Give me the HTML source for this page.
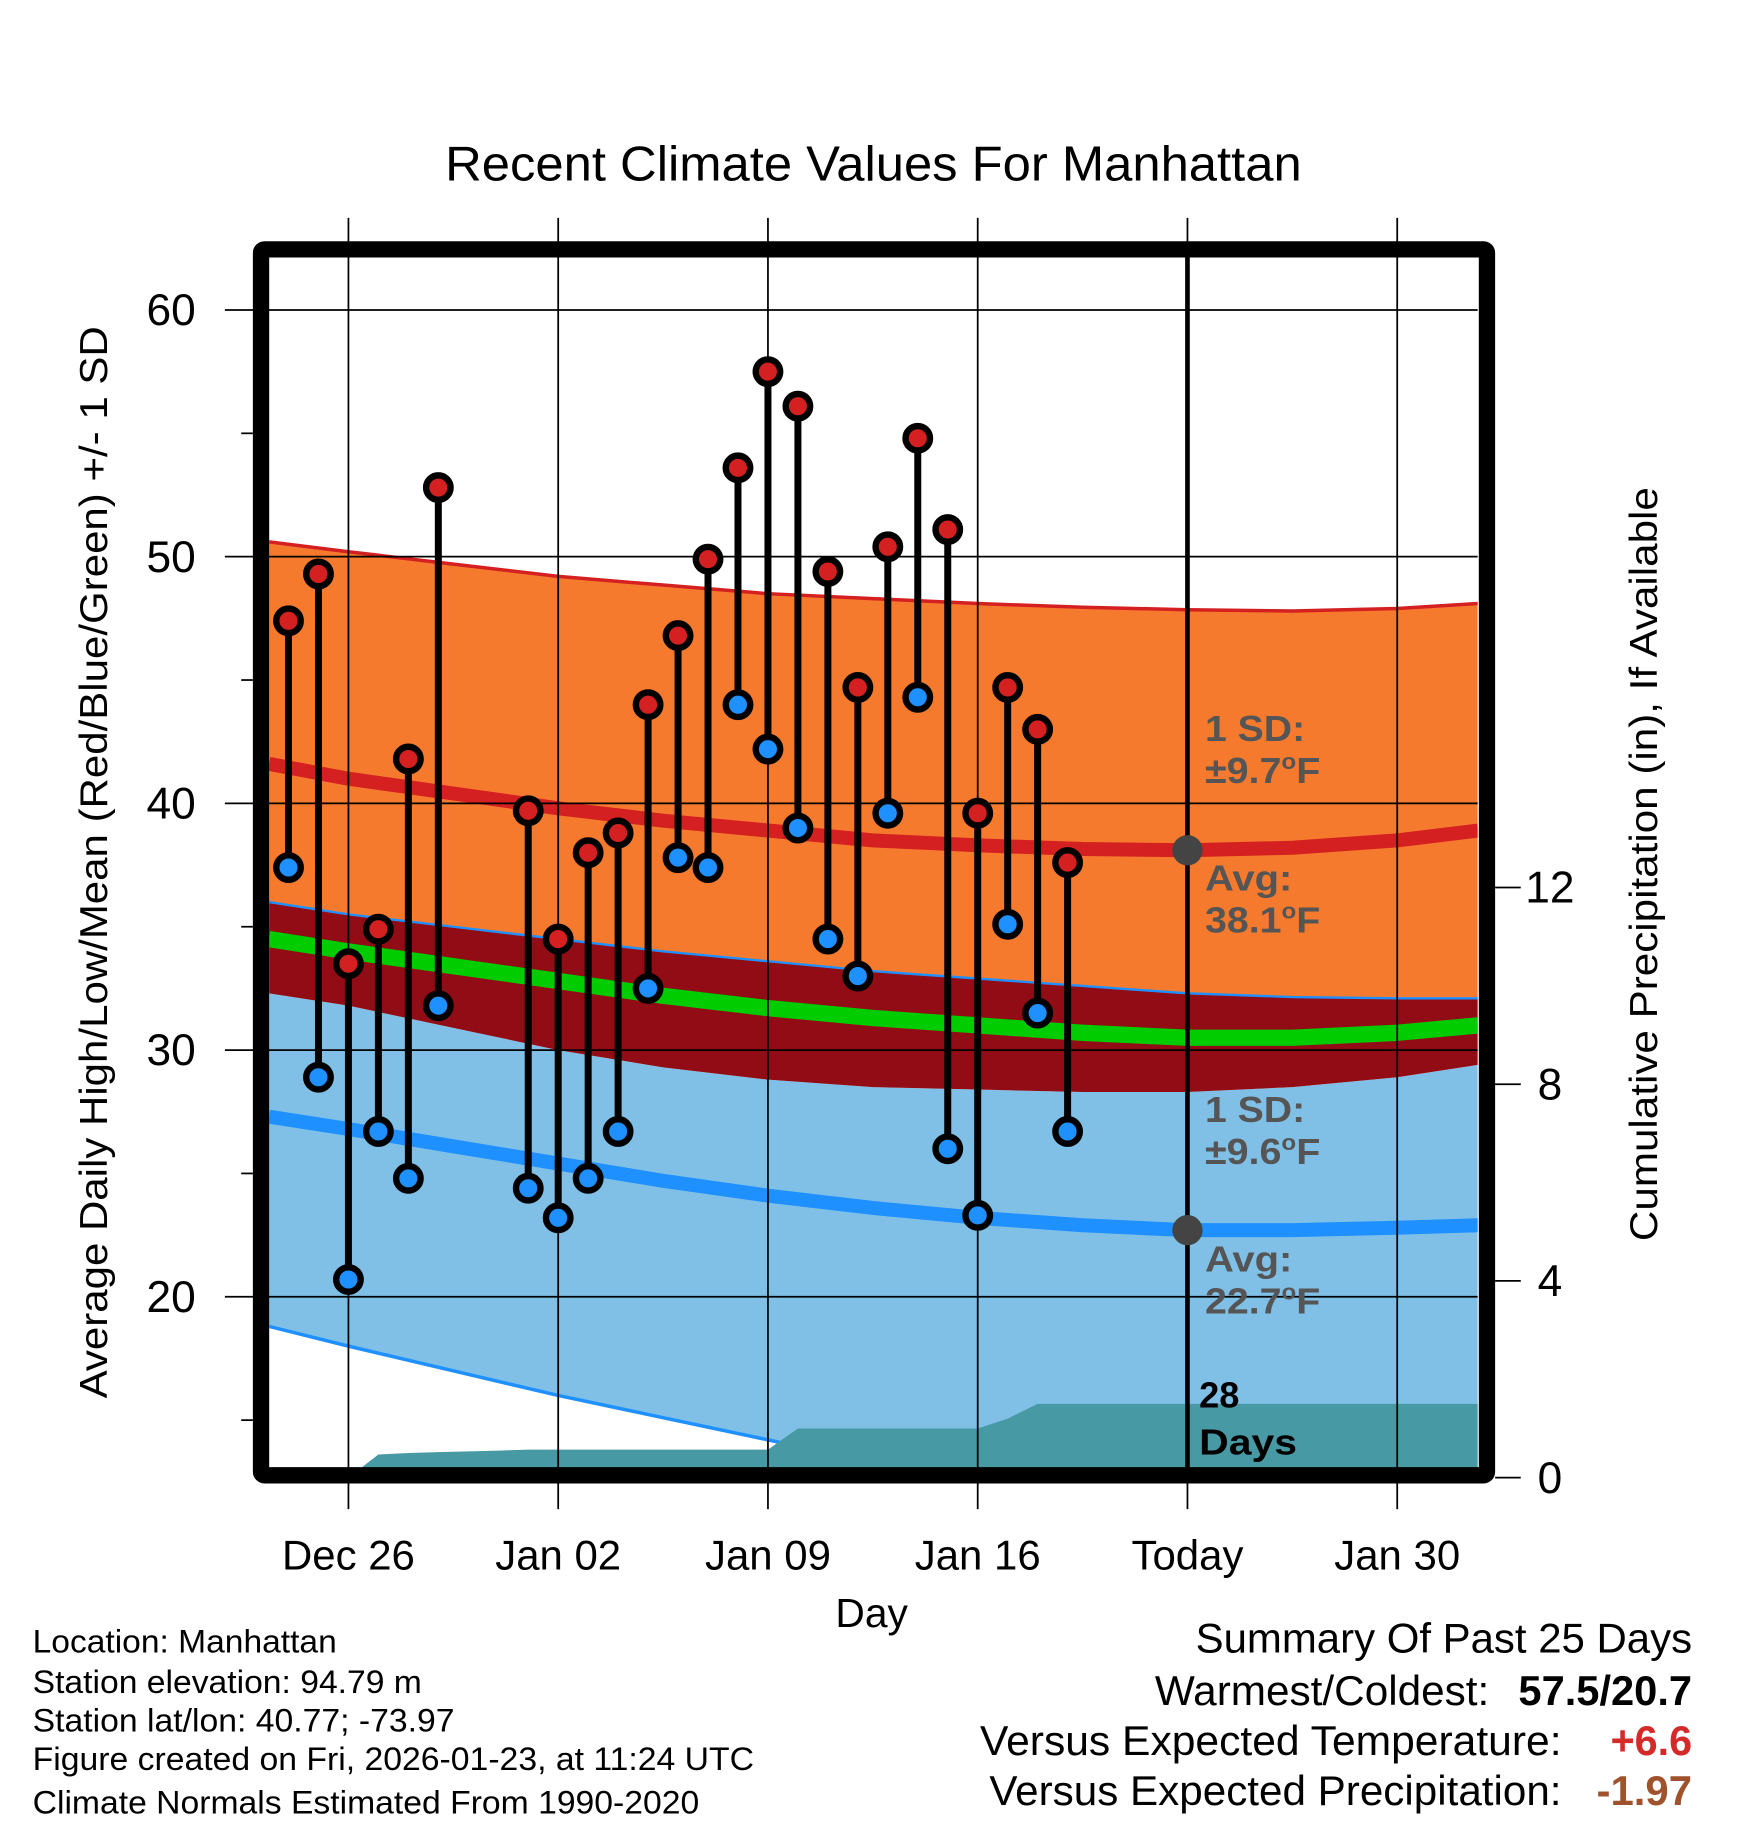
<!DOCTYPE html>
<html><head><meta charset="utf-8"><style>
html,body{margin:0;padding:0;background:#fff}
svg{display:block;font-family:"Liberation Sans",sans-serif}
</style></head><body>
<svg id="chart" width="1748" height="1828" viewBox="0 0 1500 1568.65" xmlns="http://www.w3.org/2000/svg">
<rect width="1500" height="1568.65" fill="#fff"/>
<g id="plot"></g>
<text x="382" y="155" font-size="42" textLength="735" lengthAdjust="spacingAndGlyphs">Recent Climate Values For Manhattan</text>
<text transform="translate(92,1200) rotate(-90)" font-size="33" textLength="920" lengthAdjust="spacingAndGlyphs">Average Daily High/Low/Mean (Red/Blue/Green) +/- 1 SD</text>
<text transform="translate(1422,1065) rotate(-90)" font-size="33" textLength="647" lengthAdjust="spacingAndGlyphs">Cumulative Precipitation (in), If Available</text>
<text x="748" y="1396" font-size="35" text-anchor="middle">Day</text>
<g font-size="28">
<text x="28" y="1418" textLength="261" lengthAdjust="spacingAndGlyphs">Location: Manhattan</text>
<text x="28" y="1453" textLength="334" lengthAdjust="spacingAndGlyphs">Station elevation: 94.79 m</text>
<text x="28" y="1486" textLength="362" lengthAdjust="spacingAndGlyphs">Station lat/lon: 40.77; -73.97</text>
<text x="28" y="1519" textLength="619" lengthAdjust="spacingAndGlyphs">Figure created on Fri, 2026-01-23, at 11:24 UTC</text>
<text x="28" y="1556" textLength="572" lengthAdjust="spacingAndGlyphs">Climate Normals Estimated From 1990-2020</text>
</g>
<g font-size="36">
<text x="1026" y="1418" textLength="426" lengthAdjust="spacingAndGlyphs">Summary Of Past 25 Days</text>
<text x="991" y="1463" textLength="287" lengthAdjust="spacingAndGlyphs">Warmest/Coldest:</text>
<text x="1303" y="1463" font-weight="bold" textLength="149" lengthAdjust="spacingAndGlyphs">57.5/20.7</text>
<text x="841" y="1506" textLength="499" lengthAdjust="spacingAndGlyphs">Versus Expected Temperature:</text>
<text x="1382" y="1506" font-weight="bold" fill="#d42a2a" textLength="70" lengthAdjust="spacingAndGlyphs">+6.6</text>
<text x="849" y="1549" textLength="491" lengthAdjust="spacingAndGlyphs">Versus Expected Precipitation:</text>
<text x="1370" y="1549" font-weight="bold" fill="#a0522d" textLength="82" lengthAdjust="spacingAndGlyphs">-1.97</text>
</g>
</svg>
<script>
// days relative to Dec 26
const obsDays=[-2,-1,0,1,2,3,6,7,8,9,10,11,12,13,14,15,16,17,18,19,20,21,22,23,24];
const highs=[47.4,49.3,33.5,34.9,41.8,52.8,39.7,34.5,38.0,38.8,44.0,46.8,49.9,53.6,57.5,56.1,49.4,44.7,50.4,54.8,51.1,39.6,44.7,43.0,37.6];
const lows=[37.4,28.9,20.7,26.7,24.8,31.8,24.4,23.2,24.8,26.7,32.5,37.8,37.4,44.0,42.2,39.0,34.5,33.0,39.6,44.3,26.0,23.3,35.1,31.5,26.7];
const normDays=[-2.65,0,3.5,7,10.5,14,17.5,21,24.5,28,31.5,35,37.7];
const avgHigh=[41.6,41.0,40.4,39.8,39.3,38.9,38.5,38.3,38.15,38.1,38.2,38.5,38.9];
const highPlus=[50.6,50.2,49.7,49.2,48.85,48.5,48.3,48.1,47.95,47.85,47.8,47.9,48.1];
const highMinus=[36.0,35.5,35.0,34.5,34.0,33.6,33.2,32.9,32.6,32.3,32.15,32.1,32.1];
const avgMean=[34.5,34.0,33.4,32.8,32.2,31.7,31.3,31.0,30.7,30.5,30.5,30.7,31.0];
const avgLow=[27.3,26.8,26.1,25.4,24.7,24.1,23.6,23.2,22.9,22.7,22.7,22.8,22.9];
const lowPlus=[32.3,31.8,30.9,30.0,29.3,28.8,28.5,28.4,28.3,28.3,28.5,28.9,29.4];
const lowMinus=[18.8,18.0,17.0,16.0,15.1,14.2,13.3,12.5,12.0,11.5,11.2,11.0,11.0];
const precipDays=[0,1,2,3,5,6,14,15,21,22,23,37.7];
const precipVals=[0,0.47,0.5,0.52,0.55,0.57,0.57,1.0,1.0,1.2,1.5,1.5];
const yTicks=[60,50,40,30,20];
const yMinor=[55,45,35,25,15];
const pTicks=[0,4,8,12];
const xTickDays=[0,7,14,21,28,35];
const xTickLabels=["Dec 26","Jan 02","Jan 09","Jan 16","Today","Jan 30"];

const L=231,R=1268,T=221,B=1260;
const X=d=>299+d*25.714;
const Y=v=>266+(60-v)*21.17;
const P=p=>1268-p*42.2;
const NS="http://www.w3.org/2000/svg";
const g=document.getElementById('plot');
function mk(tag,a,parent){const e=document.createElementNS(NS,tag);for(const k in a)e.setAttribute(k,a[k]);(parent||g).appendChild(e);return e;}
const defs=mk('defs',{});
const cp=mk('clipPath',{id:'clip'},defs);mk('rect',{x:L,y:T,width:R-L,height:B-T},cp);
const clip=mk('g',{'clip-path':'url(#clip)'});
function band(up,lo,fill,name){
  let d='M'+normDays.map((t,i)=>X(t)+','+Y(up[i])).join('L');
  for(let i=normDays.length-1;i>=0;i--)d+='L'+X(normDays[i])+','+Y(lo[i]);
  const e=mk('path',{d:d+'Z',fill:fill},clip);
  
  
}
function line(arr,stroke,w,name){
  const e=mk('path',{d:'M'+normDays.map((t,i)=>X(t)+','+Y(arr[i])).join('L'),fill:'none',stroke:stroke,'stroke-width':w,'stroke-linejoin':'round'},clip);
  
  
}
band(highPlus,highMinus,'#f57a2e','high-sd-band');
band(lowPlus,lowMinus,'#80c0e6','low-sd-band');
band(highMinus,lowPlus,'#920c15','overlap-band');
line(highPlus,'#d42020',3,'high-plus-sd-line');
line(highMinus,'#1e90ff',2,'high-minus-sd-line');
line(lowMinus,'#1e90ff',3,'low-minus-sd-line');
line(avgMean,'#00cc00',14,'avg-mean-line');
line(avgHigh,'#d42020',12,'avg-high-line');
line(avgLow,'#1e90ff',12,'avg-low-line');
// precip
let pd='M'+X(precipDays[0])+','+P(0);
precipDays.forEach((t,i)=>pd+='L'+X(t)+','+P(precipVals[i]));
pd+='L'+X(precipDays[precipDays.length-1])+','+P(0)+'Z';
const pa=mk('path',{d:pd,fill:'#4799a3'},clip);


// grid
yTicks.forEach(v=>{
  const l=mk('line',{x1:193,x2:R,y1:Y(v),y2:Y(v),stroke:'#000','stroke-width':1.5});
  
  
  const t=mk('text',{x:168,y:Y(v)+13,'font-size':38,'text-anchor':'end'});t.textContent=v;
  
  
});
yMinor.forEach(v=>{mk('line',{x1:207,x2:217,y1:Y(v),y2:Y(v),stroke:'#000','stroke-width':1.5});});
xTickDays.forEach((d,i)=>{
  const l=mk('line',{x1:X(d),x2:X(d),y1:187,y2:1295,stroke:'#000','stroke-width':1.5});
  
  
  const t=mk('text',{x:X(d),y:1347,'font-size':36,'text-anchor':'middle'});t.textContent=xTickLabels[i];
  
  
});
pTicks.forEach(p=>{
  mk('line',{x1:1283,x2:1305,y1:P(p),y2:P(p),stroke:'#000','stroke-width':1.5});
  const t=mk('text',{x:1330,y:P(p)+13,'font-size':38,'text-anchor':'middle'});t.textContent=p;
  
  
});
// today line
const tl=mk('line',{x1:X(28),x2:X(28),y1:T,y2:B,stroke:'#000','stroke-width':4});


[38.1,22.7].forEach(v=>{const c=mk('circle',{cx:X(28),cy:Y(v),r:13,fill:'#444'});

});
// observations
obsDays.forEach((d,i)=>{
  const x=X(d);
  const s=mk('line',{x1:x,x2:x,y1:Y(highs[i]),y2:Y(lows[i]),stroke:'#000','stroke-width':6});
  
  
  const h=mk('circle',{cx:x,cy:Y(highs[i]),r:10.5,fill:'#d42020',stroke:'#000','stroke-width':5.5});
  
  
  const lo=mk('circle',{cx:x,cy:Y(lows[i]),r:10.5,fill:'#1e90ff',stroke:'#000','stroke-width':5.5});
  
  
});
// annotations
function txt(x,y,s,fill,name,w){const a={x:x,y:y,'font-size':31,'font-weight':'bold',fill:fill};if(w){a.textLength=w;a.lengthAdjust='spacingAndGlyphs';}
const t=mk('text',a);t.innerHTML=s;

}
const deg='<tspan dy="-12" font-size="19">o</tspan><tspan dy="12">F</tspan>';
txt(1034,636,'1 SD:','#555','high-sd-label',86);
txt(1034,672,'±9.7'+deg,'#555','high-sd-value',99);
txt(1034,764,'Avg:','#555','avg-high-label',75);
txt(1034,800,'38.1'+deg,'#555','avg-high-value',99);
txt(1034,963,'1 SD:','#555','low-sd-label',86);
txt(1034,999,'±9.6'+deg,'#555','low-sd-value',99);
txt(1034,1091,'Avg:','#555','avg-low-label',75);
txt(1034,1127,'22.7'+deg,'#555','avg-low-value',99);
txt(1029,1208,'28','#000','days-count');
txt(1029,1248,'Days','#000','days-label',84);
// frame
const fr=mk('rect',{x:224,y:214,width:1052,height:1052,fill:'none',stroke:'#000','stroke-width':14,rx:3});


</script>
</body></html>
